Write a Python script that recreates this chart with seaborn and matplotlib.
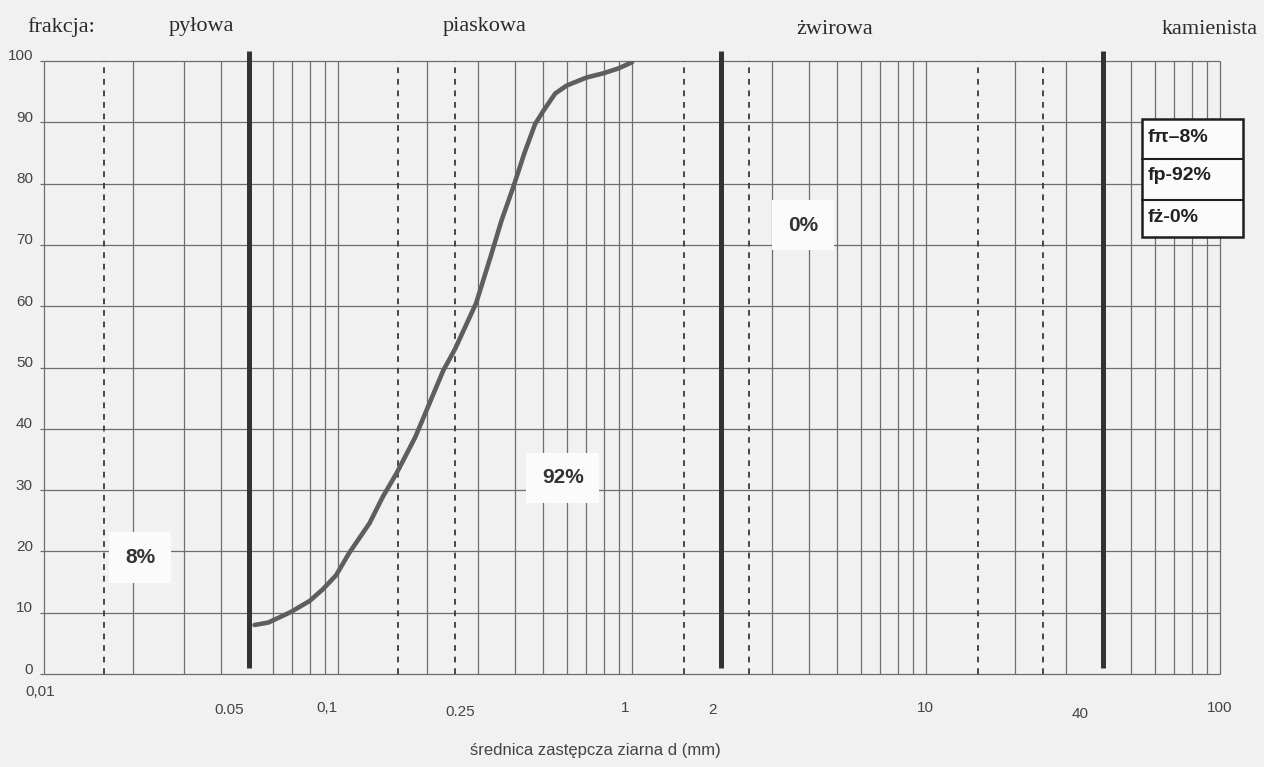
import numpy as np
import pandas as pd
import matplotlib
matplotlib.use("Agg")
import matplotlib.pyplot as plt
import matplotlib.transforms as mtrans
from matplotlib.patches import Rectangle
import seaborn as sns

# ---------------- data ----------------
grain_d_mm = [0.052, 0.058, 0.069, 0.08, 0.0887, 0.0985, 0.109, 0.128, 0.142,
              0.158, 0.183, 0.2, 0.228, 0.25, 0.295, 0.33, 0.36, 0.395,
              0.43, 0.468, 0.5, 0.548, 0.6, 0.7, 0.8, 0.9, 1.0]
passing_pct = [8.0, 8.4, 10.1, 11.9, 13.8, 16.1, 19.7, 24.6, 28.9,
               32.7, 38.6, 43.0, 49.5, 53.0, 60.5, 68.0, 74.0, 79.5,
               84.9, 89.7, 91.9, 94.7, 96.0, 97.3, 98.0, 98.8, 99.8]

fraction_header = ["frakcja:", "pyłowa", "piaskowa", "żwirowa", "kamienista"]
fraction_shares = ["8%", "92%", "0%"]
summary_rows = ["fπ–8%", "fp-92%", "fż-0%"]

x_tick_values = [0.01, 0.05, 0.1, 0.25, 1, 2, 10, 40, 100]
x_tick_labels = ["0,01", "0.05", "0,1", "0.25", "1", "2", "10", "40", "100"]
y_tick_values = [0, 10, 20, 30, 40, 50, 60, 70, 80, 90, 100]

solid_grid_d = [0.01, 0.02, 0.03, 0.04, 0.06, 0.07, 0.08, 0.09, 0.1,
                0.2, 0.3, 0.4, 0.5, 0.6, 0.7, 0.8, 0.9, 1,
                3, 4, 5, 6, 7, 8, 9, 10,
                20, 30, 50, 60, 70, 80, 90, 100]
dashed_grid_d = [0.016, 0.16, 0.25, 1.5, 2.5, 15, 25]
boundary_d = [0.05, 2, 40]

x_label = "średnica zastępcza ziarna d (mm)"

# ---------------- style ----------------
sns.set_theme(style="white")
plt.rcParams["font.family"] = ["Liberation Sans", "DejaVu Sans"]

BG = "#f1f1f1"
GRID = "#6e6e6e"
INK = "#2a2a2a"

fig = plt.figure(figsize=(12.64, 7.67), dpi=100, facecolor=BG)
W, H = 1264, 767
ax_l, ax_r, ax_t, ax_b = 44, 1220, 61, 674
ax = fig.add_axes([ax_l / W, 1 - ax_b / H, (ax_r - ax_l) / W, (ax_b - ax_t) / H])
ax.set_facecolor(BG)

ax.set_xscale("log")
ax.set_xlim(0.01, 100)
ax.set_ylim(0, 100)
for s in ax.spines.values():
    s.set_visible(False)

# grid
ax.hlines(y_tick_values, 0.01, 100, colors=GRID, linewidth=0.9, zorder=1, clip_on=False)
ax.vlines(solid_grid_d, 0, 100, colors=GRID, linewidth=0.9, zorder=1, clip_on=False)
ax.vlines(dashed_grid_d, 0, 100, colors="#3a3a3a", linewidth=1.3,
          linestyles=(0, (3.2, 3.2)), zorder=1, clip_on=False)
ax.vlines(boundary_d, 1.0, 101.6, colors="#333333", linewidth=3.6, zorder=3, clip_on=False)

# curve
df = pd.DataFrame({"d": grain_d_mm, "p": passing_pct})
sns.lineplot(data=df, x="d", y="p", ax=ax, color="#5e5e5e", linewidth=3.3,
             estimator=None, sort=False, zorder=4,
             solid_joinstyle="round", solid_capstyle="round")
ax.set_ylabel("")

# ticks
ax.set_yticks(y_tick_values)
ax.set_yticklabels([str(v) for v in y_tick_values])
ax.tick_params(axis="y", length=3, width=0.9, color=GRID, pad=5,
               labelsize=11, labelcolor="#444444", left=True)
ax.set_xticks(x_tick_values)
ax.set_xticklabels(x_tick_labels)
ax.xaxis.set_minor_locator(matplotlib.ticker.NullLocator())
ax.tick_params(axis="x", length=0, pad=19.5, labelsize=11, labelcolor="#444444")

x_offsets = [(-4, -16), (-20, 2), (-11, 0), (5, 4), (-7, 0), (-8, 2), (-1, 0), (-23, 6), (0, 0)]
for lab, (dx, dy) in zip(ax.get_xticklabels(), x_offsets):
    lab.set_transform(lab.get_transform() +
                      mtrans.ScaledTranslation(dx / 100, -dy / 100, fig.dpi_scale_trans))
for lab in ax.get_yticklabels():
    lab.set_transform(lab.get_transform() +
                      mtrans.ScaledTranslation(0, 6 / 100, fig.dpi_scale_trans))

ax.set_xlabel(x_label, fontsize=12, color="#444444", va="center")
ax.xaxis.set_label_coords((595 - ax_l) / (ax_r - ax_l), -(750 - ax_b) / (ax_b - ax_t))

# fraction share labels with white patches
share_pos = [(0.0212, 19.0), (0.582, 32.0), (3.82, 73.2)]
for txt, (xd, yd) in zip(fraction_shares, share_pos):
    ax.text(xd, yd, txt, ha="center", va="center", fontsize=15, fontweight="bold",
            color="#333333", zorder=5,
            bbox=dict(boxstyle="square,pad=0.75", facecolor="#fbfbfb", edgecolor="none"))

# summary table (axes fraction coords)
tl, tr = 0.9337, 1.0196
tt, tb = 0.9054, 0.7129
dividers = [0.8401, 0.7733]
ax.add_patch(Rectangle((tl, tb), tr - tl, tt - tb, transform=ax.transAxes,
                       facecolor="#fbfbfb", edgecolor="#1e1e1e", linewidth=1.8,
                       zorder=6, clip_on=False))
for yv in dividers:
    ax.plot([tl, tr], [yv, yv], transform=ax.transAxes, color="#1e1e1e",
            linewidth=1.5, zorder=7, clip_on=False)
row_y = [0.876, 0.814, 0.7455]
for txt, yv in zip(summary_rows, row_y):
    ax.text(0.9388, yv, txt, transform=ax.transAxes, ha="left", va="center",
            fontsize=14, fontweight="bold", color="#222222", zorder=8)

# header (serif)
header_pos = [(61, 27), (201, 27), (485, 27), (835, 30), (1210, 30)]
for txt, (px, py) in zip(fraction_header, header_pos):
    fig.text(px / W, 1 - py / H, txt, ha="center", va="center",
             fontsize=16, family=["Liberation Serif", "DejaVu Serif"], color=INK)

fig.savefig("out.png", dpi=100, facecolor=BG)
